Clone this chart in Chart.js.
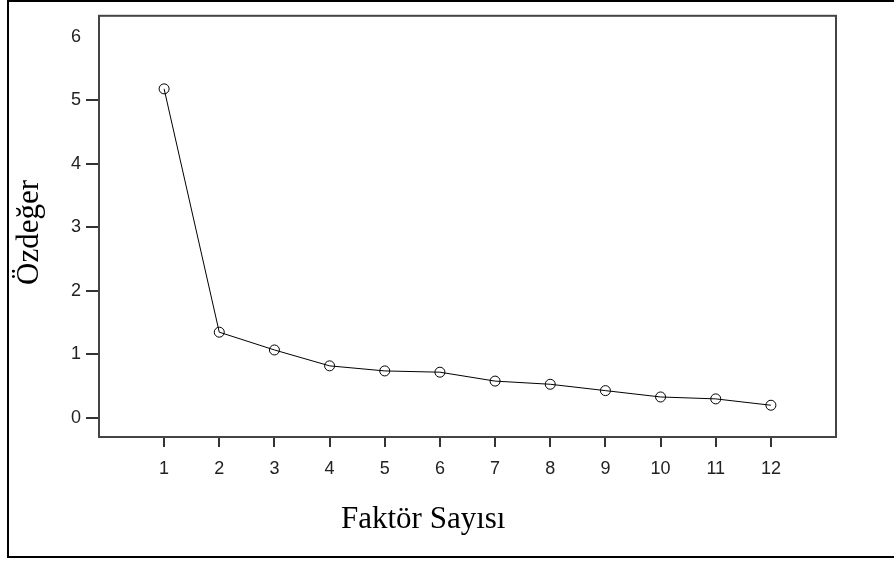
<!DOCTYPE html>
<html>
<head>
<meta charset="utf-8">
<script src="https://cdn.jsdelivr.net/npm/chart.js@4/dist/chart.umd.min.js"></script>
<style>
  html, body { margin: 0; padding: 0; background: #fff; }
  #wrap { width: 894px; height: 563px; position: relative; }
</style>
</head>
<body>
<div id="wrap"><canvas id="c" width="894" height="563"></canvas></div>
<script>
// Data
const factors = [1, 2, 3, 4, 5, 6, 7, 8, 9, 10, 11, 12];
const eigenvalues = [5.18, 1.35, 1.07, 0.82, 0.74, 0.72, 0.58, 0.53, 0.43, 0.33, 0.30, 0.20];
const yTicks = [0, 1, 2, 3, 4, 5, 6];
const xTitle = 'Faktör Sayısı';
const yTitle = 'Özdeğer';

const points = factors.map((f, i) => ({ x: f, y: eigenvalues[i] }));

const framePlugin = {
  id: 'frame',
  beforeDraw(chart) {
    const ctx = chart.ctx;
    ctx.save();
    ctx.fillStyle = '#fff';
    ctx.fillRect(0, 0, chart.width, chart.height);
    // outer page frame
    ctx.strokeStyle = '#000';
    ctx.lineWidth = 2;
    ctx.beginPath();
    ctx.moveTo(894, 1);
    ctx.lineTo(8, 1);
    ctx.lineTo(8, 557);
    ctx.lineTo(894, 557);
    ctx.stroke();
    ctx.restore();
  },
  afterDraw(chart) {
    const ctx = chart.ctx;
    const a = chart.chartArea;
    ctx.save();
    ctx.strokeStyle = '#444';
    ctx.lineWidth = 2;
    ctx.strokeRect(a.left, a.top, a.right - a.left, a.bottom - a.top);
    // axis titles
    ctx.fillStyle = '#000';
    ctx.font = '31px "Liberation Serif", "Times New Roman", serif';
    ctx.textAlign = 'left';
    ctx.textBaseline = 'alphabetic';
    ctx.fillText(xTitle, 341, 528);
    ctx.translate(38, 285);
    ctx.rotate(-Math.PI / 2);
    ctx.fillText(yTitle, 0, 0);
    ctx.restore();
  }
};

new Chart(document.getElementById('c'), {
  type: 'line',
  data: {
    datasets: [{
      data: points,
      borderColor: '#000',
      borderWidth: 1,
      tension: 0,
      pointStyle: 'circle',
      pointRadius: 5,
      pointBorderWidth: 1,
      pointBorderColor: '#000',
      pointBackgroundColor: 'rgba(255,255,255,0)',
      fill: false
    }]
  },
  options: {
    responsive: false,
    animation: false,
    devicePixelRatio: 1,
    layout: { padding: { left: 0, top: 15, right: 58, bottom: 0 } },
    plugins: { legend: { display: false }, tooltip: { enabled: false } },
    scales: {
      x: {
        type: 'linear',
        min: -0.18,
        max: 13.18,
        afterBuildTicks: s => { s.ticks = factors.map(v => ({ value: v })); },
        afterFit: s => { s.height = 126; },
        grid: { drawOnChartArea: false, drawTicks: true, tickLength: 10, color: '#333', lineWidth: 2 },
        border: { display: true, color: '#444', width: 2 },
        ticks: {
          padding: 11,
          color: '#222',
          font: { family: '"Liberation Sans", Arial, sans-serif', size: 18 },
          callback: v => String(v)
        }
      },
      y: {
        type: 'linear',
        min: -0.3,
        max: 6.33,
        afterBuildTicks: s => { s.ticks = yTicks.map(v => ({ value: v })); },
        afterFit: s => { s.width = 99; },
        grid: {
          drawOnChartArea: false, drawTicks: true, tickLength: 13, lineWidth: 2,
          color: c => (c.tick && c.tick.value === 6) ? 'rgba(0,0,0,0)' : '#333'
        },
        border: { display: true, color: '#444', width: 2 },
        ticks: {
          padding: 5,
          color: '#222',
          font: { family: '"Liberation Sans", Arial, sans-serif', size: 18 },
          callback: v => String(v)
        }
      }
    }
  },
  plugins: [framePlugin]
});
</script>
</body>
</html>
